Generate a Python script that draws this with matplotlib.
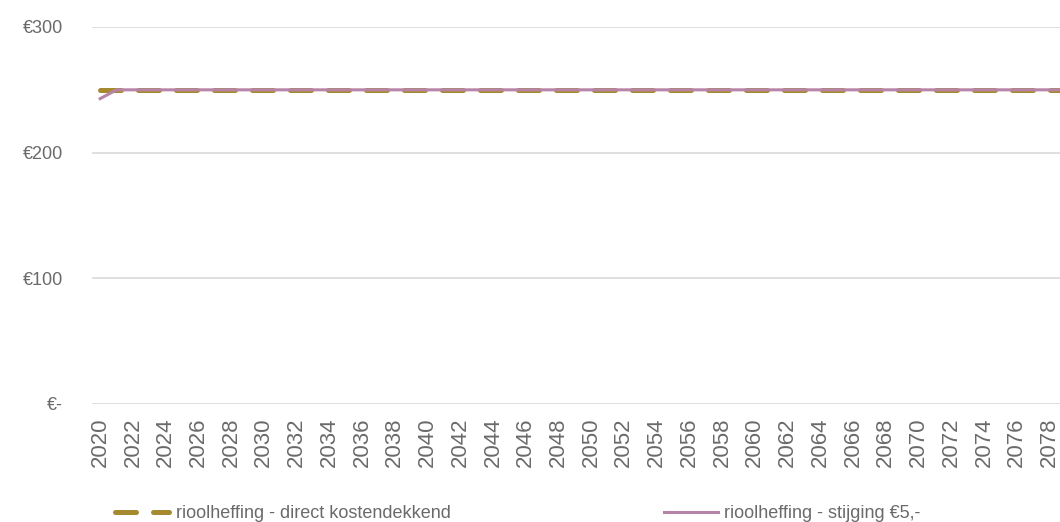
import matplotlib.pyplot as plt
import numpy as np

plt.rcParams['font.family'] = ['Liberation Sans', 'DejaVu Sans']

years = np.arange(2020, 2080)
direct = [250] * len(years)
stijging = [243] + [250] * (len(years) - 1)

grey = "#6a6a6a"
gold = "#a68a30"
purple = "#b784a7"

fig = plt.figure(figsize=(10.6, 5.22), dpi=100)
ax = fig.add_axes([92 / 1060, 1 - 404 / 522, 1 - 92 / 1060, (404 - 27) / 522])

ax.plot(years, direct, color=gold, lw=3.6, dashes=(4.2, 3.4), dash_capstyle="round",
        label="rioolheffing - direct kostendekkend", zorder=3)
ax.plot(years, stijging, color=purple, lw=2.2, label="rioolheffing - stijging €5,-", zorder=4)

ax.set_xlim(2019.5, 2078.65)
ax.set_ylim(0, 300)
ax.set_yticks([0, 100, 200, 300])
ax.set_yticklabels(["€-", "€100", "€200", "€300"])
ax.set_xticks(years[::2])
ax.set_xticklabels([str(y) for y in years[::2]], rotation=90)
ax.tick_params(length=0, colors=grey)
ax.tick_params(axis="x", pad=10, labelsize=16)
ax.tick_params(axis="y", pad=21, labelsize=13)
ax.yaxis.grid(True, color="#d9d9d9", lw=1.2)
ax.set_axisbelow(True)
for s in ax.spines.values():
    s.set_visible(False)

ax.legend(loc="center", bbox_to_anchor=(0.44, -0.29), ncol=2, frameon=False,
          fontsize=13, labelcolor=grey, handlelength=3.0, handletextpad=0.35,
          columnspacing=11.8)

fig.savefig("out.png", dpi=100)
